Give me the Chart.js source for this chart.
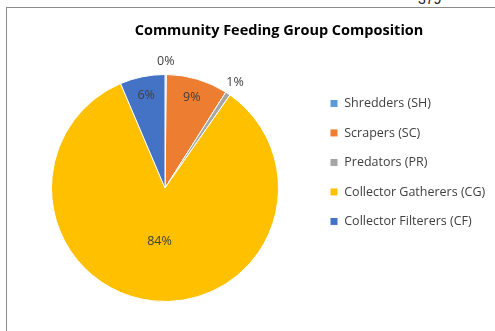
<!DOCTYPE html>
<html>
<head>
  <title>Community Feeding Group Composition</title>
  <script src="https://cdn.jsdelivr.net/npm/chart.js"></script>
  <style>
    body { margin: 0; background: #fff; }
    #wrap { position: relative; width: 495px; height: 331px; overflow: hidden; }
    #frame { position: absolute; left: 6px; top: 7px; width: 500px; height: 340px; border-top: 1px solid #8c8c8c; border-left: 1px solid #8c8c8c; }
    #page { position: absolute; left: 418px; top: -9px; font: 14px 'Liberation Sans'; color: #222; }
    canvas { position: absolute; left: 0; top: 0; }
  </style>
</head>
<body>
<div id="wrap">
  <div id="page">379</div>
  <div id="frame"></div>
  <canvas id="myChart" width="495" height="331"></canvas>
</div>
<script>
  const chartTitle = 'Community Feeding Group Composition';
  const groups = ['Shredders (SH)', 'Scrapers (SC)', 'Predators (PR)', 'Collector Gatherers (CG)', 'Collector Filterers (CF)'];
  const shares = [0.2, 8.8, 0.7, 83.9, 6.4];
  const colours = ['#5B9BD5', '#ED7D31', '#A5A5A5', '#FFC000', '#4472C4'];

  const fontFamily = 'Open Sans';
  const legendPad = 17;

  // size the fonts so the text widths come out like the original
  const mctx = document.createElement('canvas').getContext('2d');
  mctx.font = '12px ' + fontFamily;
  const baseW = Math.max(...groups.map(g => mctx.measureText(g).width));
  const textSize = Math.round(12 * 141 / baseW * 2) / 2;
  mctx.font = 'bold 15px ' + fontFamily;
  const titleSize = Math.round(15 * 288 / mctx.measureText(chartTitle).width * 2) / 2;
  mctx.font = textSize + 'px ' + fontFamily;
  const maxTextW = Math.max(...groups.map(g => mctx.measureText(g).width));
  // right padding so the legend lands where the reference has it
  // (legend width = pad + box + size/2 + text + 10, legend left wanted at 313)
  const rightPad = 147 - textSize / 2 - maxTextW;

  // percentage labels on / beside the slices
  const pctLabels = {
    id: 'pctLabels',
    afterDatasetsDraw(chart) {
      const ctx = chart.ctx;
      const meta = chart.getDatasetMeta(0);
      ctx.save();
      ctx.font = textSize + 'px ' + fontFamily;
      ctx.fillStyle = '#404040';
      ctx.textAlign = 'center';
      ctx.textBaseline = 'middle';
      meta.data.forEach((arc, i) => {
        const v = shares[i];
        const mid = (arc.startAngle + arc.endAngle) / 2;
        let r;
        if (v < 2) r = arc.outerRadius + 13;
        else if (v > 50) r = arc.outerRadius * 0.47;
        else r = arc.outerRadius * 0.83;
        ctx.fillText(Math.round(v) + '%', arc.x + Math.cos(mid) * r, arc.y + Math.sin(mid) * r);
      });
      ctx.restore();
    }
  };

  // title sits centred over the whole frame, not over the pie
  const titleText = {
    id: 'titleText',
    afterDraw(chart) {
      const ctx = chart.ctx;
      ctx.save();
      ctx.font = 'bold ' + titleSize + 'px ' + fontFamily;
      ctx.fillStyle = '#000';
      ctx.textAlign = 'center';
      ctx.textBaseline = 'middle';
      ctx.fillText(chartTitle, 279, 31);
      ctx.restore();
    }
  };

  const ctx = document.getElementById('myChart').getContext('2d');
  const myChart = new Chart(ctx, {
    type: 'pie',
    data: {
      labels: groups,
      datasets: [{
        data: shares,
        backgroundColor: colours,
        borderColor: '#fff',
        borderWidth: 1
      }]
    },
    options: {
      responsive: false,
      animation: false,
      layout: { padding: { left: legendPad, top: 74, bottom: 29, right: rightPad } },
      plugins: {
        tooltip: { enabled: false },
        legend: {
          position: 'right',
          align: 'start',
          title: { display: true, text: '', font: { size: 1 }, padding: { top: 0, bottom: 5 } },
          labels: {
            boxWidth: 8,
            boxHeight: 8,
            padding: legendPad,
            color: '#404040',
            font: { family: fontFamily, size: textSize }
          }
        }
      }
    },
    plugins: [pctLabels, titleText]
  });
</script>
</body>
</html>
